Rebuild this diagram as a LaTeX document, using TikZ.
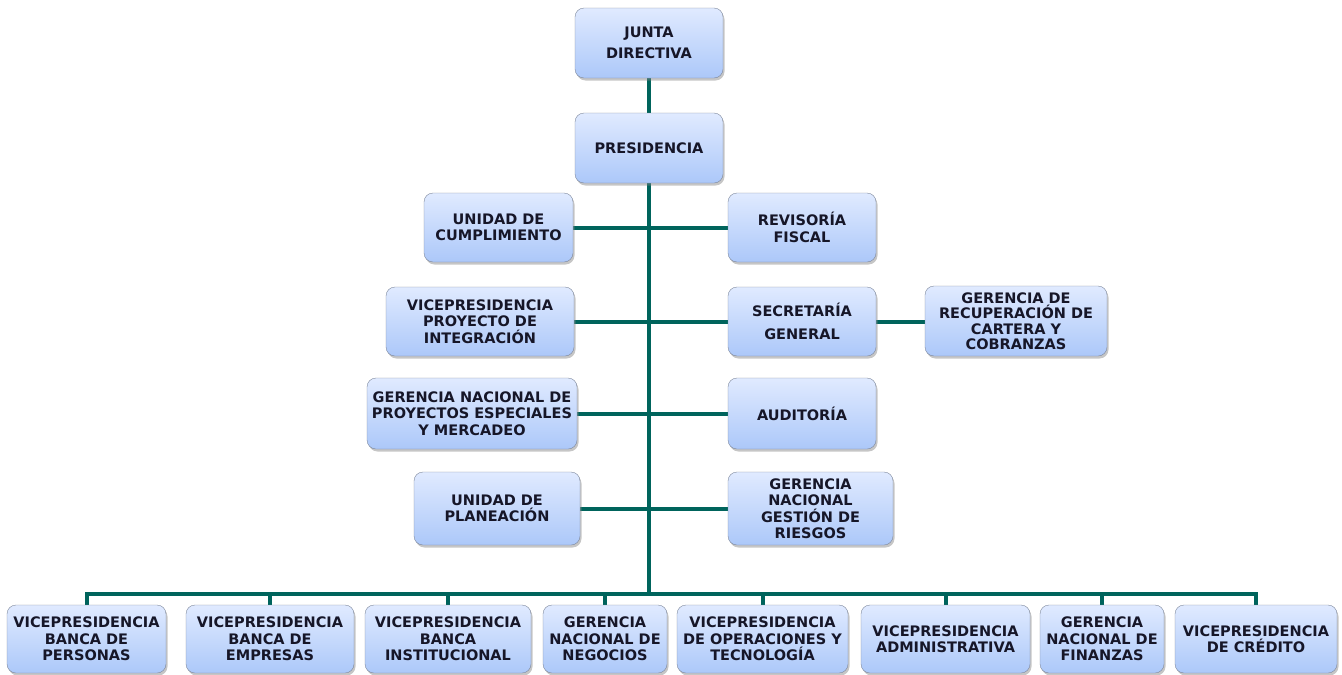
\documentclass[tikz,border=0pt]{standalone}
\usepackage{fontspec}
\setmainfont{DejaVu Sans}
\usetikzlibrary{positioning,shadows,backgrounds}

\definecolor{boxtop}{RGB}{224,234,255}
\definecolor{boxbot}{RGB}{172,200,249}
\definecolor{boxline}{RGB}{125,135,155}
\definecolor{linkteal}{RGB}{0,100,92}
\definecolor{boxtext}{RGB}{22,22,40}

\begin{document}
\begin{tikzpicture}
[x=1pt, y=-1pt, font=\bfseries\fontsize{14.5}{16.5}\selectfont,
% STYLES
% one box of the chart
unit/.style={rectangle, rounded corners=9pt, draw=boxline, thin, top color=boxtop, bottom color=boxbot,
  drop shadow={shadow xshift=1.5pt, shadow yshift=-2.5pt, opacity=0.45}, align=center, text=boxtext,
  inner sep=2pt, minimum width=148pt, minimum height=70pt},
% lines between boxes
link/.style={draw=linkteal, line width=4pt}]

\useasboundingbox (0,0) rectangle (1342,675);

% top
\node [unit] (junta) at (649,43) {JUNTA\\[4pt]DIRECTIVA};
\node [unit] (pres) at (649,148) {PRESIDENCIA};

% staff units
\node [unit, minimum width=149pt, minimum height=69pt] (cumpl) at (498.5,227.5) {UNIDAD DE\\CUMPLIMIENTO};
\node [unit, minimum height=69pt] (revis) at (802,227.5) {REVISORÍA\\FISCAL};

\node [unit, minimum width=188pt, minimum height=69pt] (vpinteg) at (480,321.5) {VICEPRESIDENCIA\\PROYECTO DE\\INTEGRACIÓN};
\node [unit, minimum height=69pt] (secret) at (802,321.5) {SECRETARÍA\\[6pt]GENERAL};
\node [unit, minimum width=182pt, font=\bfseries\fontsize{14.5}{15.5}\selectfont] (recup) at (1016,321) {GERENCIA DE\\RECUPERACIÓN DE\\CARTERA Y\\COBRANZAS};

\node [unit, minimum width=210pt, minimum height=71pt] (proyesp) at (472,413.5) {GERENCIA NACIONAL DE\\PROYECTOS ESPECIALES\\Y MERCADEO};
\node [unit, minimum height=71pt] (audit) at (802,413.5) {AUDITORÍA};

\node [unit, minimum width=166pt, minimum height=73pt] (planea) at (497,508.5) {UNIDAD DE\\PLANEACIÓN};
\node [unit, minimum width=165pt, minimum height=73pt] (riesgos) at (810.5,508.5) {GERENCIA\\NACIONAL\\GESTIÓN DE\\RIESGOS};

% bottom row
\node [unit, minimum width=159pt, minimum height=68pt] (b1) at (86.5,639) {VICEPRESIDENCIA\\BANCA DE\\PERSONAS};
\node [unit, minimum width=168pt, minimum height=68pt] (b2) at (270,639) {VICEPRESIDENCIA\\BANCA DE\\EMPRESAS};
\node [unit, minimum width=166pt, minimum height=68pt] (b3) at (448,639) {VICEPRESIDENCIA\\BANCA\\INSTITUCIONAL};
\node [unit, minimum width=124pt, minimum height=68pt] (b4) at (605,639) {GERENCIA\\NACIONAL DE\\NEGOCIOS};
\node [unit, minimum width=171pt, minimum height=68pt] (b5) at (762.5,639) {VICEPRESIDENCIA\\DE OPERACIONES Y\\TECNOLOGÍA};
\node [unit, minimum width=169pt, minimum height=68pt] (b6) at (945.5,639) {VICEPRESIDENCIA\\ADMINISTRATIVA};
\node [unit, minimum width=124pt, minimum height=68pt] (b7) at (1102,639) {GERENCIA\\NACIONAL DE\\FINANZAS};
\node [unit, minimum width=162pt, minimum height=68pt] (b8) at (1256,639) {VICEPRESIDENCIA\\DE CRÉDITO};

\coordinate (bus) at (649,594);

%%%%%%%%%%%%%%%%

\begin{scope}[on background layer]
\draw [link] (junta) -- (pres);
\draw [link] (pres.south) -- (bus);
\draw [link] (cumpl.east) -- (cumpl.east -| revis.west);
\draw [link] (vpinteg.east) -- (vpinteg.east -| secret.west);
\draw [link] (secret.east) -- (secret.east -| recup.west);
\draw [link] (proyesp.east) -- (proyesp.east -| audit.west);
\draw [link] (planea.east) -- (planea.east -| riesgos.west);
\draw [link] (b1.north) |- (bus) -| (b8.north);
\foreach \b in {b2,b3,b4,b5,b6,b7}
  \draw [link] (\b.north) -- (\b.north |- bus);
\end{scope}

\end{tikzpicture}
\end{document}
